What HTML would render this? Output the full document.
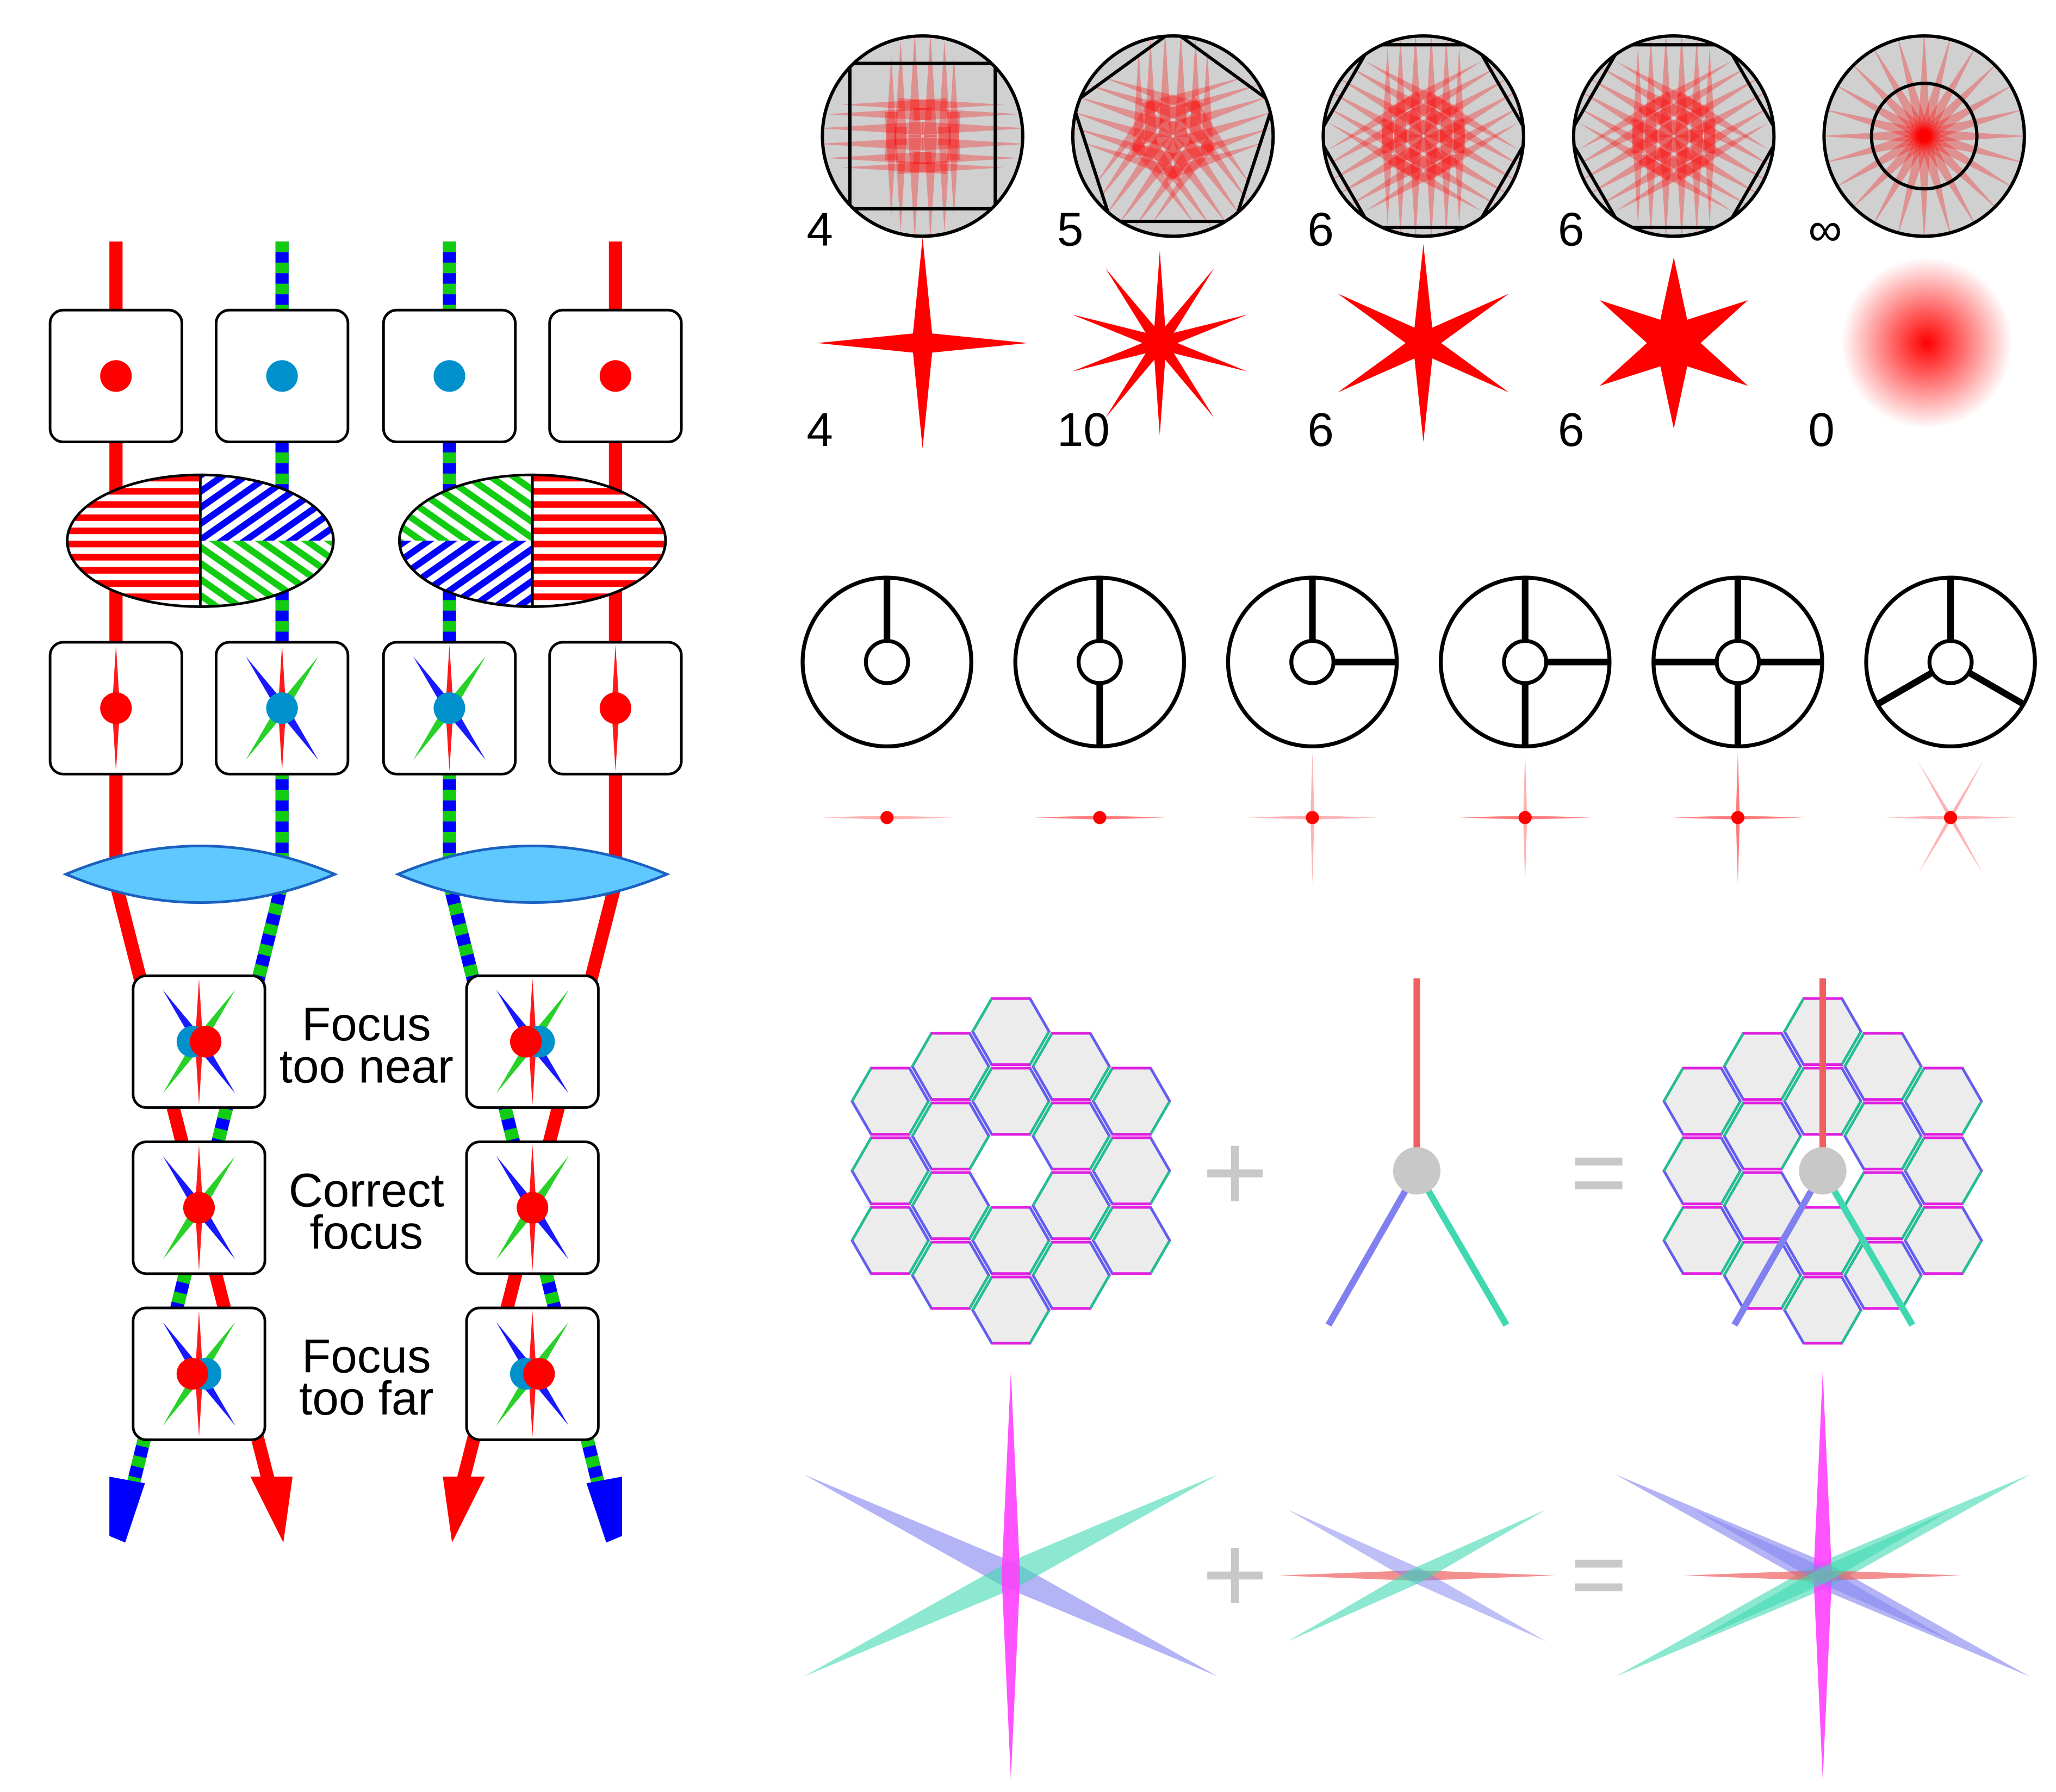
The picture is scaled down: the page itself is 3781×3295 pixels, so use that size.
<!DOCTYPE html>
<html><head><meta charset="utf-8"><style>
html,body{margin:0;padding:0;background:#fff}
svg{display:block}
text{font-family:"Liberation Sans",sans-serif}
</style></head><body>
<svg id="s" width="3781" height="3295" viewBox="0 0 1560 1359" xmlns="http://www.w3.org/2000/svg">
<defs>
<pattern id="pr" width="10" height="10" patternUnits="userSpaceOnUse"><rect width="10" height="10" fill="#fff"/><rect width="10" height="5" fill="#f00"/></pattern>
<pattern id="pb" width="10" height="10" patternUnits="userSpaceOnUse" patternTransform="rotate(-35)"><rect width="10" height="10" fill="#fff"/><rect width="10" height="5" fill="#00f"/></pattern>
<pattern id="pg" width="10" height="10" patternUnits="userSpaceOnUse" patternTransform="rotate(35)"><rect width="10" height="10" fill="#fff"/><rect width="10" height="5" fill="#1c1"/></pattern>
<radialGradient id="blur"><stop offset="0" stop-color="#f00"/><stop offset="1" stop-color="#f00" stop-opacity="0"/></radialGradient>
</defs>
<g id="left"></g>
<g id="right"></g>
</svg>
<script>
const NS="http://www.w3.org/2000/svg";
const apLabels=["4","5","6","6","∞"];
const starLabels=["4","10","6","6","0"];
const apBlades=[4,5,6,6,0];
const starSpikes=[4,10,6,6,0];
const spiderVanes=[[90],[90,270],[90,0],[90,0,270],[90,0,270,180],[90,210,330]];
const focusLabels=[["Focus","too near"],["Correct","focus"],["Focus","too far"]];
function el(p,t,a,txt){const e=document.createElementNS(NS,t);for(const k in a)e.setAttribute(k,a[k]);if(txt!==undefined)e.textContent=txt;p.appendChild(e);return e;}
const L=document.getElementById('left'),R=document.getElementById('right');
function spike(p,cx,cy,ang,len,w,col,op){const a=ang*Math.PI/180,dx=Math.cos(a),dy=-Math.sin(a);
 const e=el(p,'polygon',{points:`${cx-dy*w},${cy+dx*w} ${cx+dx*len},${cy+dy*len} ${cx+dy*w},${cy-dx*w}`,fill:col,'fill-opacity':op});
 }
function star(p,cx,cy,n,len,w,col,op,off){const o=(off===undefined?90:off);for(let i=0;i<n;i++)spike(p,cx,cy,o+i*360/n,len,w,col,op);}
function beam(x1,y1,x2,y2,type){
 if(type=='r'){el(L,'line',{x1,y1,x2,y2,stroke:'#f00','stroke-width':10});}
 else{el(L,'line',{x1,y1,x2,y2,stroke:'#00f','stroke-width':10});el(L,'line',{x1,y1,x2,y2,stroke:'#1c1','stroke-width':10,'stroke-dasharray':'8 8'});}
}
const cols=[[88,'r'],[214,'b'],[341,'b'],[467,'r']];
cols.forEach(c=>beam(c[0],183,c[0],670,c[1]));
beam(88,670,208,1140,'r');beam(214,670,95,1150,'b');beam(467,670,347,1140,'r');beam(341,670,460,1150,'b');
el(L,'polygon',{points:'190,1120 222,1120 215,1170',fill:'#f00'});
el(L,'polygon',{points:'336,1120 368,1120 343,1170',fill:'#f00'});
el(L,'polygon',{points:'83,1120 110,1125 95,1170 83,1165',fill:'#00f'});
el(L,'polygon',{points:'445,1125 472,1120 472,1165 460,1170',fill:'#00f'});
function box(x,y){const b=el(L,'rect',{x,y,width:100,height:100,rx:10,fill:'#fff',stroke:'#000','stroke-width':2});}
cols.forEach(c=>{box(c[0]-50,235);el(L,'circle',{cx:c[0],cy:285,r:12,fill:c[1]=='r'?'#f00':'#0090cc'});});
[[152,0],[404,1]].forEach(([cx,f])=>{
 const g=el(L,'g',{});
 const id='ce'+f;const cp=el(L,'clipPath',{id});el(cp,'ellipse',{cx,cy:410,rx:101,ry:50});
 const gg=el(g,'g',{'clip-path':`url(#${id})`});
 if(!f){el(gg,'rect',{x:cx-101,y:360,width:101,height:100,fill:'url(#pr)'});el(gg,'rect',{x:cx,y:360,width:101,height:50,fill:'url(#pb)'});el(gg,'rect',{x:cx,y:410,width:101,height:50,fill:'url(#pg)'});}
 else{el(gg,'rect',{x:cx,y:360,width:101,height:100,fill:'url(#pr)'});el(gg,'rect',{x:cx-101,y:360,width:101,height:50,fill:'url(#pg)'});el(gg,'rect',{x:cx-101,y:410,width:101,height:50,fill:'url(#pb)'});}
 el(g,'line',{x1:cx,y1:360,x2:cx,y2:460,stroke:'#000','stroke-width':2});
 el(g,'ellipse',{cx,cy:410,rx:101,ry:50,fill:'none',stroke:'#000','stroke-width':2});
});
function psf(p,cx,cy,s,mode){
 star(p,cx,cy,2,48*s,4*s,'#00f',0.9,125);star(p,cx,cy,2,48*s,4*s,'#1c1',0.9,55);star(p,cx,cy,2,48*s,3*s,'#f00',0.9,90);
 if(mode=='r'){el(p,'circle',{cx,cy,r:12,fill:'#f00'});}
 else if(mode=='b'){el(p,'circle',{cx,cy,r:12,fill:'#0090cc'});}
 else {el(p,'circle',{cx:cx+(mode=='rl'?-5:5),cy,r:12,fill:'#0090cc'});el(p,'circle',{cx:cx+(mode=='rl'?5:-5),cy,r:12,fill:'#f00'});}
}
cols.forEach(c=>{box(c[0]-50,487);if(c[1]=='r'){star(L,c[0],537,2,48,3,'#f00',0.9,90);el(L,'circle',{cx:c[0],cy:537,r:12,fill:'#f00'});}else psf(L,c[0],537,1,'b');});
[152,404].forEach(cx=>{const e=el(L,'path',{d:`M${cx-102},663 Q${cx},620 ${cx+102},663 Q${cx},706 ${cx-102},663Z`,fill:'#5ec8ff',stroke:'#1a60c0','stroke-width':2});});
const fy=[790,916,1042];
fy.forEach((y,i)=>{box(101,y-50);box(354,y-50);
 psf(L,151,y,1,i==1?'r':(i==0?'rl':'rr'));psf(L,404,y,1,i==1?'r':(i==0?'rr':'rl'));
 const t=el(L,'text',{x:278,y:y-1,'font-size':36,'text-anchor':'middle'},focusLabels[i][0]);
 const t2=el(L,'text',{x:278,y:y+31,'font-size':36,'text-anchor':'middle'},focusLabels[i][1]);
});
apLabels.forEach((lab,i)=>{
 const cx=700+i*190,cy=103;
 const g=el(R,'g',{});
 const cp=el(R,'clipPath',{id:'ap'+i});el(cp,'circle',{cx,cy,r:76});
 el(g,'circle',{cx,cy,r:76,fill:'#d0d0d0'});
 const inner=el(g,'g',{'clip-path':`url(#ap${i})`});
 const n=apBlades[i]||24;
 const copies=apBlades[i]?6:1;
 for(let k=0;k<copies;k++)for(let j=0;j<n;j++){
  const a=j*360/n+90+(apBlades[i]?(k-2.5)*360/n/6:0);
  const off=apBlades[i]?(k-2.5)*12:0;
  const r=a*Math.PI/180;const px=-Math.sin(r)*off,py=-Math.cos(r)*off;
  spike(inner,cx+px,cy+py,apBlades[i]?(j*360/n+90):a,80,5,'#f00',0.3);}
 if(apBlades[i]){const pts=[];const rad=apBlades[i]==4?78:80;for(let j=0;j<n;j++){const a=(j*360/n+(n==4?45:n==5?90:0))*Math.PI/180;pts.push((cx+rad*Math.cos(a))+','+(cy-rad*Math.sin(a)));}
  el(inner,'polygon',{points:pts.join(' '),fill:'none',stroke:'#000','stroke-width':2.5});}
 else el(g,'circle',{cx,cy,r:40,fill:'none',stroke:'#000','stroke-width':2.5});
 el(g,'circle',{cx,cy,r:76,fill:'none',stroke:'#000','stroke-width':2.5});
 const t=el(R,'text',{x:612+i*190,y:186,'font-size':36},lab);
 const t2=el(R,'text',{x:612+i*190,y:338,'font-size':36},starLabels[i]);
 const sx=700+i*190+(i==1?-10:0),sy=260;
 const sg=el(R,'g',{});
 if(starSpikes[i]){const m=starSpikes[i];const len=i==0?80:(i==1?70:i==3?65:75);const w=i==3?14:(i==1?5:8);star(sg,sx,sy,m,len,w,'#f00',1,90);el(sg,'circle',{cx:sx,cy:sy,r:8,fill:'#f00'});}
 else el(sg,'circle',{cx:1462,cy:260,r:65,fill:'url(#blur)'});
});
spiderVanes.forEach((v,i)=>{
 const cx=673+i*161.4,cy=502;
 const g=el(R,'g',{});
 el(g,'circle',{cx,cy,r:64,fill:'#fff',stroke:'#000','stroke-width':3});
 v.forEach(a=>{const r=a*Math.PI/180;el(g,'line',{x1:cx+16*Math.cos(r),y1:cy-16*Math.sin(r),x2:cx+64*Math.cos(r),y2:cy-64*Math.sin(r),stroke:'#000','stroke-width':5});});
 el(g,'circle',{cx,cy,r:16,fill:'#fff',stroke:'#000','stroke-width':3});
 const sy=620;const sg=el(R,'g',{});
 v.forEach(a=>{star(sg,cx,sy,2,50,1.5,'#f00',0.3,a+90);});
 el(sg,'circle',{cx,cy:sy,r:5,fill:'#f00'});
});
function mirror(cx,cy){
 const g=el(R,'g',{});
 const Rr=30.5;
 for(let q=-2;q<=2;q++)for(let r=-2;r<=2;r++){const s=-q-r;if(Math.abs(s)>2||(q==0&&r==0))continue;
  const x=cx+1.5*Rr*q,y=cy+Math.sqrt(3)*Rr*(r+q/2);
  const pts=[];for(let k=0;k<6;k++){const a=k*Math.PI/3;pts.push((x+(Rr-1.5)*Math.cos(a))+','+(y+(Rr-1.5)*Math.sin(a)));}
  el(g,'polygon',{points:pts.join(' '),fill:'#ececec',stroke:'#e020e0','stroke-width':2});
  for(let k=0;k<6;k++){const a1=k*Math.PI/3,a2=(k+1)*Math.PI/3;const c=['#20c090','#e020e0','#6060f0'][k%3];
   el(g,'line',{x1:x+(Rr-1.5)*Math.cos(a1),y1:y+(Rr-1.5)*Math.sin(a1),x2:x+(Rr-1.5)*Math.cos(a2),y2:y+(Rr-1.5)*Math.sin(a2),stroke:c,'stroke-width':2});}
 }
}
function spider(cx,cy){
 const g=el(R,'g',{});
 el(g,'line',{x1:cx,y1:742,x2:cx,y2:cy,stroke:'#f06060','stroke-width':5});
 el(g,'line',{x1:cx,y1:cy,x2:cx-67,y2:cy+117,stroke:'#8080f0','stroke-width':5});
 el(g,'line',{x1:cx,y1:cy,x2:cx+68,y2:cy+117,stroke:'#40d8b0','stroke-width':5});
 el(g,'circle',{cx,cy,r:18,fill:'#c8c8c8'});
}
mirror(767,888);spider(1075,888);mirror(1383,888);spider(1383,888);
function op(x,y,plus){const g=el(R,'g',{stroke:'#c8c8c8','stroke-width':6});
 if(plus){el(g,'line',{x1:x-21,y1:y,x2:x+21,y2:y});el(g,'line',{x1:x,y1:y-21,x2:x,y2:y+21});}
 else{el(g,'line',{x1:x-18,y1:y-9,x2:x+18,y2:y-9});el(g,'line',{x1:x-18,y1:y+9,x2:x+18,y2:y+9});}}
op(937,890,1);op(1213,890,0);op(937,1195,1);op(1213,1195,0);
function bigStar(cx,cy){star(R,cx,cy,2,175,10,'#8080f0',0.6,154);star(R,cx,cy,2,175,10,'#40d8b0',0.6,26);star(R,cx,cy,2,155,7,'#ff40ff',0.9,90);}
function smallStar(cx,cy){star(R,cx,cy,2,105,4,'#f06060',0.7,0);star(R,cx,cy,2,110,6,'#8080f0',0.5,153);star(R,cx,cy,2,110,6,'#40d8b0',0.6,27);}
bigStar(767,1195);smallStar(1075,1195);bigStar(1383,1195);smallStar(1383,1195);
</script>
</body></html>
